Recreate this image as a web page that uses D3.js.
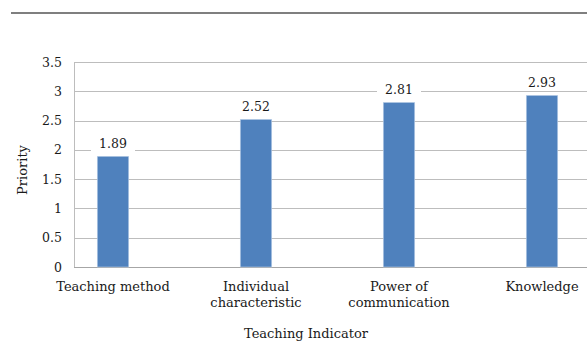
<!DOCTYPE html>
<html>
<head>
<meta charset="utf-8">
<script src="https://cdn.jsdelivr.net/npm/d3@7"></script>
<style>
  html, body { margin: 0; padding: 0; background: #fff; }
  svg { display: block; }
  text { font-family: "DejaVu Serif", "Liberation Serif", serif; fill: #1a1a1a; }
</style>
</head>
<body>
<svg id="chart" width="587" height="342"></svg>
<script>
// Teaching indicators and their mean priority scores
const categories = [
  ["Teaching method"],
  ["Individual", "characteristic"],
  ["Power of", "communication"],
  ["Knowledge"]
];
const priorities = [1.89, 2.52, 2.81, 2.93];
const yTicks = [0, 0.5, 1, 1.5, 2, 2.5, 3, 3.5];
const yTickLabels = ["0", "0.5", "1", "1.5", "2", "2.5", "3", "3.5"];
const xTitle = "Teaching Indicator";
const yTitle = "Priority";

const svg = d3.select("#chart");
const W = 587;
const plotLeft = 74, plotRight = 587, plotTop = 62, plotBottom = 267;

const keys = categories.map(c => c.join(" "));
const x = d3.scaleBand()
  .domain(keys)
  .range([41.5, 613.5])
  .paddingInner(0.78)
  .paddingOuter(0.39);

const y = d3.scaleLinear().domain([0, 3.5]).range([plotBottom, plotTop]);

// rule across the top of the figure
svg.append("line")
  .attr("x1", 11).attr("x2", W).attr("y1", 13).attr("y2", 13)
  .attr("stroke", "#555").attr("stroke-width", 1.5);

// horizontal gridlines
svg.append("g").selectAll("line").data(yTicks).join("line")
  .attr("x1", plotLeft).attr("x2", plotRight)
  .attr("y1", d => Math.round(y(d)) + 0.5).attr("y2", d => Math.round(y(d)) + 0.5)
  .attr("stroke", d => d === 0 ? "#a6a6a6" : "#bdbdbd").attr("stroke-width", 1);

// left axis line
svg.append("line")
  .attr("x1", plotLeft + 0.5).attr("x2", plotLeft + 0.5)
  .attr("y1", plotTop).attr("y2", plotBottom)
  .attr("stroke", "#bdbdbd");

// y tick labels
const yAxis = d3.axisLeft(y).tickValues(yTicks)
  .tickFormat((d, i) => yTickLabels[i]).tickSize(0).tickPadding(12);
const gy = svg.append("g").attr("transform", `translate(${plotLeft},0)`).call(yAxis);
gy.select(".domain").remove();
gy.selectAll("text").style("font-family", "DejaVu Serif, serif").style("font-size", "12.5px").attr("fill", "#1a1a1a");

// bars
const bw = x.bandwidth();
svg.append("g").selectAll("rect").data(priorities).join("rect")
  .attr("x", (d, i) => x(keys[i]))
  .attr("y", d => y(d))
  .attr("width", bw)
  .attr("height", d => plotBottom - y(d))
  .attr("fill", "#4f81bd")
  .attr("stroke", "#bcd0e8").attr("stroke-width", 0.6);

// value labels with white backing
const lab = svg.append("g").selectAll("g").data(priorities).join("g")
  .attr("transform", (d, i) => `translate(${x(keys[i]) + bw / 2},${y(d) - 8})`);
lab.append("rect")
  .attr("x", -22).attr("y", -13).attr("width", 44).attr("height", 16)
  .attr("fill", "#fff");
lab.append("text")
  .attr("text-anchor", "middle")
  .style("font-size", "12.5px")
  .text(d => d.toFixed(2));

// category labels
const gx = svg.append("g");
categories.forEach((lines, i) => {
  const cx = x(keys[i]) + bw / 2;
  const t = gx.append("text")
    .attr("x", cx)
    .attr("y", 291)
    .attr("text-anchor", "middle")
    .style("font-size", "13px");
  lines.forEach((s, j) => {
    t.append("tspan").attr("x", cx).attr("dy", j === 0 ? 0 : 16).text(s);
  });
});

// axis titles
svg.append("text")
  .attr("x", 306).attr("y", 338)
  .attr("text-anchor", "middle")
  .style("font-size", "13px")
  .text(xTitle);

svg.append("text")
  .attr("transform", `translate(27,170) rotate(-90)`)
  .attr("text-anchor", "middle")
  .style("font-size", "13px")
  .text(yTitle);
</script>
</body>
</html>
